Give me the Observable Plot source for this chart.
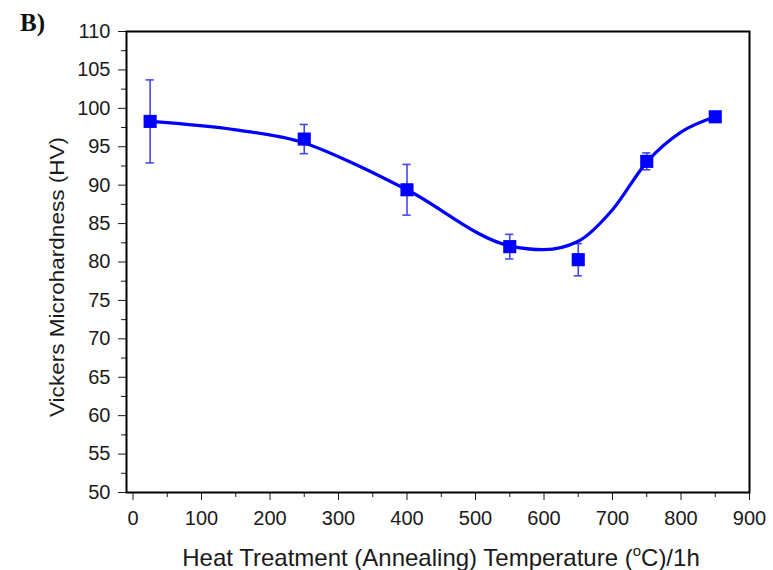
<!DOCTYPE html>
<html>
<head>
<meta charset="utf-8">
<script src="https://cdn.jsdelivr.net/npm/d3@7"></script>
<script src="https://cdn.jsdelivr.net/npm/@observablehq/plot@0.6"></script>
<style>
  html, body { margin: 0; padding: 0; background: #fff; }
  #chart { width: 773px; height: 570px; }
</style>
</head>
<body>
<div id="chart"></div>
<script>
// Measured points (annealing temperature, °C) and Vickers microhardness (HV)
const temps = [25, 250, 400, 550, 650, 750, 850];
const hardness = [98.3, 96.0, 89.4, 82.0, 80.3, 93.1, 98.9];
const errors = [5.4, 1.9, 3.3, 1.6, 2.1, 1.1, 0.5];

// Smooth fitted curve
const fitTemps = [25, 150, 250, 325, 400, 550, 600, 650, 700, 750, 800, 850];
const fitHardness = [98.3, 97.2, 95.5, 92.7, 89.4, 82.1, 81.6, 82.7, 86.8, 93.0, 96.9, 98.9];

// Tick values
const xTicks = [0, 100, 200, 300, 400, 500, 600, 700, 800, 900];
const xMinor = [50, 150, 250, 350, 450, 550, 650, 750, 850];
const yTicks = [50, 55, 60, 65, 70, 75, 80, 85, 90, 95, 100, 105, 110];
const yMinor = [52.5, 57.5, 62.5, 67.5, 72.5, 77.5, 82.5, 87.5, 92.5, 97.5, 102.5, 107.5];

const panelLabel = "B)";
const xTitle = ["Heat Treatment (Annealing) Temperature (", "o", "C)/1h"];
const yTitle = "Vickers Microhardness (HV)";

const points = temps.map((t, i) => ({x: t, y: hardness[i], e: errors[i]}));
const fit = fitTemps.map((t, i) => ({x: t, y: fitHardness[i]}));

const capHalf = 6; // in x units
const blue = "#0000ff";
const errBlue = "#4646f0";
const font = "'Liberation Sans', Arial, sans-serif";

const plot = Plot.plot({
  width: 773,
  height: 570,
  marginLeft: 126,
  marginRight: 24,
  marginTop: 31,
  marginBottom: 78,
  style: {fontFamily: font, fontSize: "20px", color: "#1a1a1a", background: "#fff"},
  x: {domain: [-9.5, 900]},
  y: {domain: [50, 110]},
  marks: [
    Plot.axisX({ticks: xTicks, tickSize: 8, tickPadding: 10, label: null, tickFormat: d => String(d)}),
    Plot.axisX({ticks: xMinor, tickSize: 5, label: null, tickFormat: () => ""}),
    Plot.axisY({ticks: yTicks, tickSize: 8, tickPadding: 8, label: null, tickFormat: d => String(d)}),
    Plot.axisY({ticks: yMinor, tickSize: 5, label: null, tickFormat: () => ""}),
    Plot.frame({stroke: "#000", strokeWidth: 2}),
    Plot.ruleX(points, {x: "x", y1: d => d.y - d.e, y2: d => d.y + d.e, stroke: errBlue, strokeWidth: 1.6}),
    Plot.ruleY(points, {y: d => d.y - d.e, x1: d => d.x - capHalf, x2: d => d.x + capHalf, stroke: errBlue, strokeWidth: 1.6}),
    Plot.ruleY(points, {y: d => d.y + d.e, x1: d => d.x - capHalf, x2: d => d.x + capHalf, stroke: errBlue, strokeWidth: 1.6}),
    Plot.line(fit, {x: "x", y: "y", curve: "monotone-x", stroke: blue, strokeWidth: 3.2}),
    Plot.dot(points, {x: "x", y: "y", symbol: "square", r: 7.4, fill: blue, stroke: "none"})
  ]
});

const svg = d3.select(plot);
// Tick label size (all texts drawn by Plot are the tick labels)
svg.selectAll("text").attr("font-size", 20).style("font-size", "20px").attr("fill", "#1a1a1a");
// Panel label
svg.append("text")
  .attr("x", 20).attr("y", 31)
  .attr("text-anchor", "start")
  .attr("font-family", "'Liberation Serif', 'Times New Roman', serif")
  .attr("font-weight", "bold").attr("font-size", 25)
  .attr("fill", "#111")
  .text(panelLabel);
// Y title
svg.append("text")
  .attr("transform", "translate(64,277) rotate(-90)")
  .attr("text-anchor", "middle")
  .attr("font-family", font)
  .attr("font-size", 21)
  .attr("textLength", 280)
  .attr("lengthAdjust", "spacingAndGlyphs")
  .attr("fill", "#1a1a1a")
  .text(yTitle);
// X title with superscript
const xt = svg.append("text")
  .attr("x", 441).attr("y", 566)
  .attr("text-anchor", "middle")
  .attr("font-family", font)
  .attr("font-size", 24)
  .attr("fill", "#1a1a1a");
xt.append("tspan").text(xTitle[0]);
xt.append("tspan").attr("font-size", 15).attr("dy", -10).text(xTitle[1]);
xt.append("tspan").attr("dy", 10).text(xTitle[2]);

document.getElementById("chart").appendChild(plot);
</script>
</body>
</html>
